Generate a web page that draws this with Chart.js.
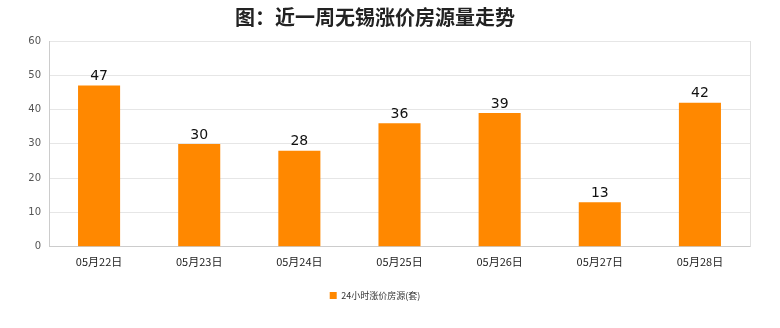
<!DOCTYPE html>
<html>
<head>
<meta charset="utf-8">
<script src="https://cdn.jsdelivr.net/npm/chart.js@4/dist/chart.umd.min.js"></script>
<style>
  html, body { margin: 0; padding: 0; background: #fff; }
  #wrap { width: 780px; height: 328px; }
</style>
</head>
<body>
<div id="wrap"><canvas id="c"></canvas></div>
<script>
// 数据
var days = ["05月22日", "05月23日", "05月24日", "05月25日", "05月26日", "05月27日", "05月28日"];
var counts = [47, 30, 28, 36, 39, 13, 42];
var seriesName = "24小时涨价房源(套)";

// 柱顶数值
var valueLabels = {
    id: 'valueLabels',
    afterDatasetsDraw: function (chart) {
        var ctx = chart.ctx;
        var meta = chart.getDatasetMeta(0);
        ctx.save();
        ctx.font = '14px "DejaVu Sans", sans-serif';
        ctx.fillStyle = '#111';
        ctx.textAlign = 'center';
        ctx.textBaseline = 'bottom';
        meta.data.forEach(function (bar, i) {
            ctx.fillText(counts[i], bar.x, bar.y - 2);
        });
        ctx.restore();
    }
};

new Chart(document.getElementById('c'), {
    type: 'bar',
    data: {
        labels: days,
        datasets: [{
            label: seriesName,
            data: counts,
            backgroundColor: '#ff8800',
            borderColor: '#ff8800',
            borderWidth: 0,
            categoryPercentage: 1,
            barPercentage: 0.42
        }]
    },
    options: {
        responsive: true,
        maintainAspectRatio: false,
        animation: false,
        layout: { padding: { left: 0, right: 30, top: 0, bottom: 18 } },
        plugins: {
            title: {
                display: true,
                text: '图：近一周无锡涨价房源量走势',
                color: '#222',
                font: { size: 20, weight: 'bold', family: '"Noto Sans CJK SC", sans-serif' },
                padding: { top: 5, bottom: 12 }
            },
            legend: {
                position: 'bottom',
                labels: {
                    boxWidth: 7,
                    boxHeight: 7,
                    color: '#333',
                    font: { size: 9, family: '"Noto Sans CJK SC", sans-serif' },
                    padding: 23
                }
            },
            tooltip: { enabled: false }
        },
        scales: {
            x: {
                grid: { display: false },
                border: { color: '#ccc' },
                ticks: { color: '#222', padding: 0, font: { size: 11, family: '"Noto Sans CJK SC", sans-serif' }, maxRotation: 0 }
            },
            y: {
                min: 0,
                max: 60,
                ticks: { stepSize: 10, color: '#555', font: { size: 10, family: '"DejaVu Sans", sans-serif' }, padding: 8 },
                grid: { color: '#e6e6e6', tickLength: 0 },
                border: { color: '#ccc' },
                afterFit: function (s) { s.width = 49; }
            }
        }
    },
    plugins: [valueLabels, {
        id: 'frame',
        afterDraw: function (chart) {
            var a = chart.chartArea, ctx = chart.ctx;
            ctx.save();
            ctx.strokeStyle = '#e0e0e0';
            ctx.beginPath();
            ctx.moveTo(a.right + 0.5, a.top);
            ctx.lineTo(a.right + 0.5, a.bottom);
            ctx.stroke();
            ctx.restore();
        }
    }]
});
</script>
</body>
</html>
